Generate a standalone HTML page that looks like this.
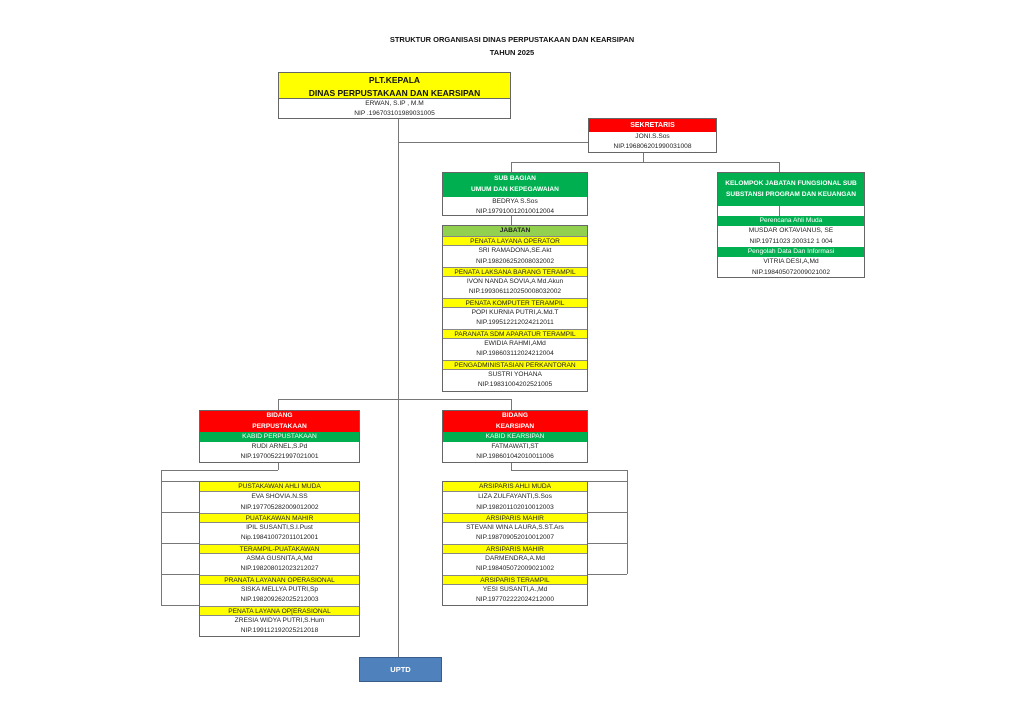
<!DOCTYPE html>
<html><head><meta charset="utf-8"><style>
body{margin:0;width:1024px;height:724px;background:#fff;position:relative;font-family:"Liberation Sans",sans-serif;overflow:hidden}
.a{position:absolute}
.ln{position:absolute;background:#777}
.box{position:absolute;border:1px solid #666;box-sizing:border-box;background:#fff}
.r{text-align:center;font-size:6.6px;color:#222;white-space:nowrap;overflow:hidden;box-sizing:border-box}
.y{background:#ffff00;border-top:1px solid #888;border-bottom:1px solid #888}
.g{background:#00b050;color:#fff}
.rd{background:#ff0000;color:#fff;font-weight:bold}
.t{font-weight:bold;font-size:7.5px;text-align:center;position:absolute;left:0;width:1024px;color:#111}
</style></head><body>
<div class="t" style="top:35px">STRUKTUR ORGANISASI DINAS PERPUSTAKAAN DAN KEARSIPAN</div>
<div class="t" style="top:48px">TAHUN 2025</div>

<!-- lines -->
<div class="ln" style="left:398px;top:118px;width:1px;height:539px"></div>
<div class="ln" style="left:398px;top:142px;width:190px;height:1px"></div>
<div class="ln" style="left:643px;top:152px;width:1px;height:10px"></div>
<div class="ln" style="left:511px;top:162px;width:268px;height:1px"></div>
<div class="ln" style="left:511px;top:162px;width:1px;height:10px"></div>
<div class="ln" style="left:779px;top:162px;width:1px;height:10px"></div>
<div class="ln" style="left:511px;top:215px;width:1px;height:10px"></div>
<div class="ln" style="left:278px;top:399px;width:233px;height:1px"></div>
<div class="ln" style="left:278px;top:399px;width:1px;height:11px"></div>
<div class="ln" style="left:511px;top:399px;width:1px;height:11px"></div>
<div class="ln" style="left:278px;top:462px;width:1px;height:8px"></div>
<div class="ln" style="left:161px;top:470px;width:117px;height:1px"></div>
<div class="ln" style="left:161px;top:470px;width:1px;height:135px"></div>
<div class="ln" style="left:161px;top:481px;width:38px;height:1px"></div>
<div class="ln" style="left:161px;top:512px;width:38px;height:1px"></div>
<div class="ln" style="left:161px;top:543px;width:38px;height:1px"></div>
<div class="ln" style="left:161px;top:574px;width:38px;height:1px"></div>
<div class="ln" style="left:161px;top:605px;width:38px;height:1px"></div>
<div class="ln" style="left:511px;top:462px;width:1px;height:8px"></div>
<div class="ln" style="left:511px;top:470px;width:116px;height:1px"></div>
<div class="ln" style="left:627px;top:470px;width:1px;height:104px"></div>
<div class="ln" style="left:588px;top:481px;width:39px;height:1px"></div>
<div class="ln" style="left:588px;top:512px;width:39px;height:1px"></div>
<div class="ln" style="left:588px;top:543px;width:39px;height:1px"></div>
<div class="ln" style="left:588px;top:574px;width:39px;height:1px"></div>

<!-- kepala -->
<div class="box" style="left:278px;top:72px;width:233px;height:47px">
<div class="r" style="background:#ffff00;font-weight:bold;font-size:8.5px;height:26px;line-height:12.5px;padding-top:1px;border-bottom:1px solid #666;color:#111">PLT.KEPALA<br>DINAS PERPUSTAKAAN DAN KEARSIPAN</div>
<div class="r" style="line-height:9.5px">ERWAN, S.IP , M.M<br>NIP .196703101989031005</div></div>

<!-- sekretaris -->
<div class="box" style="left:588px;top:118px;width:129px;height:35px">
<div class="r rd" style="height:13px;line-height:13px;font-size:7px">SEKRETARIS</div>
<div class="r" style="line-height:10px">JONI.S.Sos<br>NIP.196806201990031008</div></div>

<!-- subbagian -->
<div class="box" style="left:442px;top:172px;width:146px;height:44px">
<div class="r g" style="height:24px;line-height:10.5px;padding-top:1px;font-weight:bold">SUB BAGIAN<br>UMUM DAN KEPEGAWAIAN</div>
<div class="r" style="line-height:10px">BEDRYA S.Sos<br>NIP.197910012010012004</div></div>

<!-- jabatan -->
<div class="box" style="left:442px;top:225px;width:146px;height:167px">
<div class="r" style="background:#92d050;font-weight:bold;height:10px;line-height:10px">JABATAN</div>
<div class="r y" style="height:10.3px;line-height:9px">PENATA LAYANA OPERATOR</div>
<div class="r" style="line-height:10.3px">SRI RAMADONA,SE.Akt<br>NIP.198206252008032002</div>
<div class="r y" style="height:10.3px;line-height:9px">PENATA LAKSANA BARANG TERAMPIL</div>
<div class="r" style="line-height:10.3px">IVON NANDA SOVIA,A Md.Akun<br>NIP.1993061120250008032002</div>
<div class="r y" style="height:10.3px;line-height:9px">PENATA KOMPUTER TERAMPIL</div>
<div class="r" style="line-height:10.3px">POPI KURNIA PUTRI,A.Md.T<br>NIP.19951221202421201​1</div>
<div class="r y" style="height:10.3px;line-height:9px">PARANATA SDM APARATUR TERAMPIL</div>
<div class="r" style="line-height:10.3px">EWIDIA RAHMI,AMd<br>NIP.198603112024212004</div>
<div class="r y" style="height:10.3px;line-height:9px">PENGADMINISTASIAN PERKANTORAN</div>
<div class="r" style="line-height:10.3px">SUSTRI YOHANA<br>NIP.19831004202521005</div></div>

<!-- kelompok -->
<div class="box" style="left:717px;top:172px;width:148px;height:106px">
<div class="r g" style="height:33px;line-height:11px;padding-top:5px;font-weight:bold">KELOMPOK JABATAN FUNGSIONAL SUB<br>SUBSTANSI PROGRAM DAN KEUANGAN</div>
<div style="height:10px;position:relative"><div class="ln" style="left:61px;top:0;width:1px;height:10px"></div></div>
<div class="r g" style="height:10px;line-height:10px">Perencana Ahli Muda</div>
<div class="r" style="line-height:10.5px">MUSDAR OKTAVIANUS, SE<br>NIP.19711023 200312 1 004</div>
<div class="r g" style="height:10px;line-height:10px">Pengolah Data Dan Informasi</div>
<div class="r" style="line-height:10.5px">VITRIA DESI,A,Md<br>NIP.198405072009021002</div></div>

<!-- bidang perpustakaan -->
<div class="box" style="left:199px;top:410px;width:161px;height:53px">
<div class="r rd" style="height:21px;line-height:10.5px;font-weight:bold">BIDANG<br>PERPUSTAKAAN</div>
<div class="r g" style="height:10px;line-height:10px">KABID PERPUSTAKAAN</div>
<div class="r" style="line-height:10.3px">RUDI ARNEL,S.Pd<br>NIP.197005221997021001</div></div>

<div class="box" style="left:199px;top:481px;width:161px;height:156px">
<div class="r y" style="height:10.3px;line-height:9px;border-top:none">PUSTAKAWAN AHLI MUDA</div>
<div class="r" style="line-height:10.3px">EVA SHOVIA.N.SS<br>NIP.197705282009012002</div>
<div class="r y" style="height:10.3px;line-height:9px">PUATAKAWAN MAHIR</div>
<div class="r" style="line-height:10.3px">IPIL SUSANTI,S.I.Pust<br>Nip.198410072011012001</div>
<div class="r y" style="height:10.3px;line-height:9px">TERAMPIL-PUATAKAWAN</div>
<div class="r" style="line-height:10.3px">ASMA GUSNITA,A,Md<br>NIP.198208012023212027</div>
<div class="r y" style="height:10.3px;line-height:9px">PRANATA LAYANAN OPERASIONAL</div>
<div class="r" style="line-height:10.3px">SISKA MELLYA PUTRI,Sp<br>NIP.198209262025212003</div>
<div class="r y" style="height:10.3px;line-height:9px">PENATA LAYANA OP[ERASIONAL</div>
<div class="r" style="line-height:10.3px">ZRESIA WIDYA PUTRI,S.Hum<br>NIP.199112192025212018</div></div>

<!-- bidang kearsipan -->
<div class="box" style="left:442px;top:410px;width:146px;height:53px">
<div class="r rd" style="height:21px;line-height:10.5px;font-weight:bold">BIDANG<br>KEARSIPAN</div>
<div class="r g" style="height:10px;line-height:10px">KABID KEARSIPAN</div>
<div class="r" style="line-height:10.3px">FATMAWATI,ST<br>NIP.198601042010011006</div></div>

<div class="box" style="left:442px;top:481px;width:146px;height:125px">
<div class="r y" style="height:10.3px;line-height:9px;border-top:none">ARSIPARIS AHLI MUDA</div>
<div class="r" style="line-height:10.3px">LIZA ZULFAYANTI,S.Sos<br>NIP.198201102010012003</div>
<div class="r y" style="height:10.3px;line-height:9px">ARSIPARIS MAHIR</div>
<div class="r" style="line-height:10.3px">STEVANI WINA LAURA,S.ST.Ars<br>NIP.198709052010012007</div>
<div class="r y" style="height:10.3px;line-height:9px">ARSIPARIS MAHIR</div>
<div class="r" style="line-height:10.3px">DARMENDRA,A.Md<br>NIP.198405072009021002</div>
<div class="r y" style="height:10.3px;line-height:9px">ARSIPARIS TERAMPIL</div>
<div class="r" style="line-height:10.3px">YESI SUSANTI,A.,Md<br>NIP.197702222024212000</div></div>

<!-- UPTD -->
<div class="a" style="left:359px;top:657px;width:83px;height:25px;background:#4f81bd;border:1px solid #385d8a;box-sizing:border-box;color:#fff;font-weight:bold;font-size:7.5px;text-align:center;line-height:23px">UPTD</div>
</body></html>
